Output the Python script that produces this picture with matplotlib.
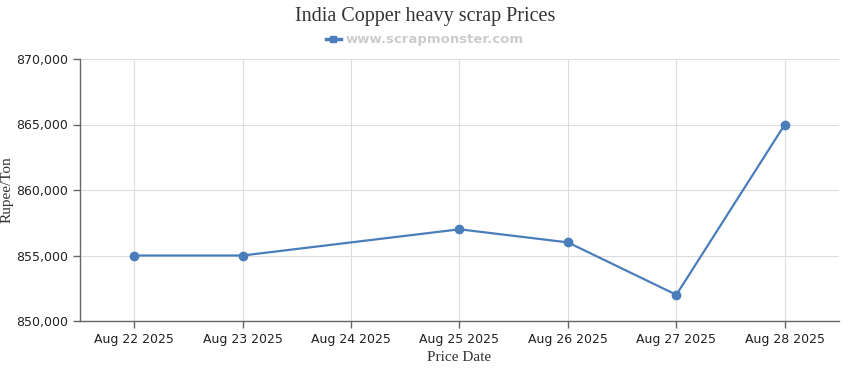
import matplotlib
matplotlib.use("Agg")
import matplotlib.pyplot as plt
from matplotlib.ticker import FuncFormatter
from matplotlib.lines import Line2D

dates = ["Aug 22 2025", "Aug 23 2025", "Aug 24 2025", "Aug 25 2025",
         "Aug 26 2025", "Aug 27 2025", "Aug 28 2025"]
prices = [855000, 855000, None, 857000, 856000, 852000, 865000]
y_ticks = [850000, 855000, 860000, 865000, 870000]

line_color = "#4a7ebb"
fig = plt.figure(figsize=(8.5, 3.7), dpi=100)
ax = fig.add_axes([80/850, 1-321/370, (839-80)/850, (321-59)/370])

xs = [i for i, v in enumerate(prices) if v is not None]
ys = [v for v in prices if v is not None]
ax.plot(xs, ys, color=line_color, lw=1.6, marker="o", ms=6, zorder=3)

ax.set_xlim(-0.5, len(dates) - 0.5)
ax.set_ylim(y_ticks[0], y_ticks[-1])
ax.set_xticks(range(len(dates)))
ax.set_xticklabels(dates)
ax.set_yticks(y_ticks)
ax.yaxis.set_major_formatter(FuncFormatter(lambda v, p: f"{int(v):,}"))
ax.grid(True, color="#dddddd", lw=0.8)
ax.set_axisbelow(True)
for s in ["top", "right"]:
    ax.spines[s].set_visible(False)
for s in ["left", "bottom"]:
    ax.spines[s].set_color("#666666")
    ax.spines[s].set_linewidth(1.0)
ax.tick_params(axis="both", colors="#666666", labelcolor="#222222",
               labelsize=9, length=5, width=1)
ax.tick_params(axis="x", pad=4)

serif = "Liberation Serif"
ax.set_ylabel("Rupee/Ton", family=serif, fontsize=11, color="#333333")
ax.yaxis.set_label_coords((14 - 80) / 759, 0.5)
ax.set_xlabel("Price Date", family=serif, fontsize=11, color="#333333", labelpad=3)
fig.text(0.5, 1-16/370, "India Copper heavy scrap Prices", family=serif,
         fontsize=14.5, color="#333333", ha="center", va="center")
handle = Line2D([], [], color=line_color, lw=2.5, marker="s", ms=4.5)
leg = fig.legend([handle], ["www.scrapmonster.com"], loc="center",
                 bbox_to_anchor=(0.5, 1-40/370), frameon=False,
                 prop={"weight": "bold", "size": 9.5}, handlelength=1.1,
                 handletextpad=0.4)
for t in leg.get_texts():
    t.set_color("#cccccc")

fig.savefig("out.png", dpi=100)
